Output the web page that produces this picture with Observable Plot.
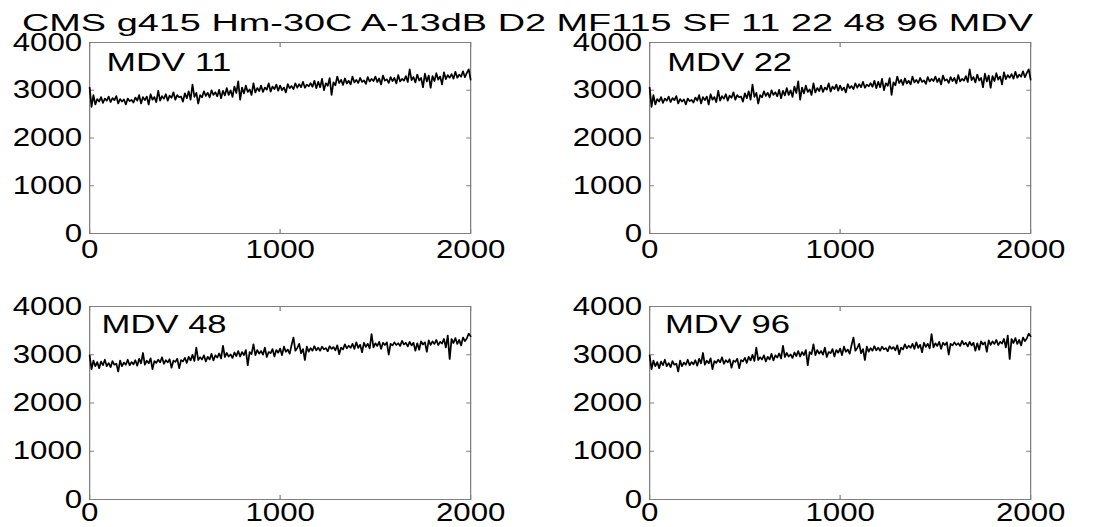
<!DOCTYPE html>
<html>
<head>
<meta charset="utf-8">
<script src="https://cdn.jsdelivr.net/npm/d3@7"></script>
<script src="https://cdn.jsdelivr.net/npm/@observablehq/plot@0.6"></script>
<style>
  html, body { margin: 0; padding: 0; background: #fff; overflow: hidden; }
  #stage { position: relative; width: 888px; height: 527px; transform: scaleX(1.25); transform-origin: 0 0; }
  #stage > * { position: absolute; }
</style>
</head>
<body>
<div id="stage"></div>
<script>
const titleText = "CMS g415 Hm-30C A-13dB D2 MF115 SF 11 22 48 96 MDV";
const mdvValues = [11, 22, 48, 96];
const xTicks = [0, 1000, 2000];
const yTicks = [0, 1000, 2000, 3000, 4000];
const sampleStep = 10;

// series (MDV 11 and MDV 22 look identical)
const seriesTop = [
  3060, 2650, 2900, 2700, 2820, 2760, 2860, 2730, 2830, 2780,
  2870, 2750, 2840, 2790, 2880, 2720, 2820, 2760, 2810, 2700,
  2830, 2770, 2800, 2740, 2850, 2780, 2900, 2720, 2860, 2790,
  2870, 2700, 2920, 2800, 2860, 2750, 2990, 2780, 2880, 2820,
  2920, 2780, 2890, 2840, 2960, 2800, 2900, 2850, 2870, 2760,
  2940, 2830, 2980, 2800, 3120, 2860, 2950, 2720, 2900, 2850,
  2980, 2880, 2950, 2850, 3000, 2900, 2960, 2870, 3010, 2830,
  2990, 2890, 3050, 2900, 3000, 2860, 3080, 2940, 3190, 2800,
  3060, 2930, 3100, 2960, 3020, 2900, 3150, 2950, 3050, 2980,
  3100, 2960, 3060, 3010, 3150, 2970, 3080, 3020, 3120, 2990,
  3100, 3000, 3060, 2950, 3130, 3040, 3090, 3020, 3150, 3050,
  3130, 3060, 3180, 3050, 3120, 3080, 3150, 3070, 3200, 3040,
  3180, 3060, 3240, 3000, 3150, 3090, 3260, 2900, 3170, 3100,
  3290, 3150, 3220, 3110, 3250, 3140, 3200, 3120, 3290, 3160,
  3220, 3150, 3260, 3170, 3210, 3130, 3280, 3180, 3240, 3190,
  3290, 3170, 3250, 3120, 3310, 3200, 3230, 3150, 3280, 3190,
  3260, 3140, 3320, 3180, 3240, 3200, 3300, 3170, 3440, 3210,
  3280, 3160, 3330, 3200, 3260, 3060, 3350, 3180, 3310, 3050,
  3300, 3190, 3360, 3220, 3290, 3120, 3380, 3230, 3320, 3260,
  3340, 3240, 3390, 3260, 3330, 3280, 3400, 3270, 3360, 3440,
  3220
];

// series (MDV 48 and MDV 96 look identical)
const seriesBottom = [
  2990, 2700, 2880, 2760, 2850, 2720, 2860, 2780, 2900, 2760,
  2830, 2740, 2870, 2790, 2820, 2650, 2880, 2760, 2840, 2790,
  2900, 2780, 2850, 2800, 2890, 2770, 2920, 2820, 3040, 2790,
  2880, 2820, 2930, 2700, 2870, 2830, 2900, 2840, 2950, 2810,
  2890, 2840, 2910, 2730, 2880, 2850, 2920, 2720, 2890, 2860,
  2940, 2830, 2960, 2880, 3000, 2870, 3150, 2890, 2950, 2900,
  2990, 2860, 2960, 2900, 3020, 2880, 2990, 2940, 3030, 2920,
  3190, 2950, 3040, 2960, 3010, 2930, 3050, 2970, 3080, 2960,
  3060, 2990, 3100, 2780, 3060, 3010, 3220, 2990, 3100, 3020,
  3080, 3000, 3150, 2950, 3060, 3030, 3120, 2960, 3100, 3040,
  3130, 2990, 3170, 3060, 3110, 3020, 3200, 3360, 3080, 3140,
  3230, 3030, 3120, 2890, 3170, 3060, 3140, 3080, 3180, 3090,
  3150, 3080, 3170, 3110, 3140, 3070, 3180, 3120, 3160, 3090,
  3200, 3010, 3150, 3110, 3220, 3130, 3190, 3140, 3230, 3120,
  3260, 3140, 3210, 3050, 3250, 3160, 3230, 3130, 3430, 3150,
  3240, 3180, 3270, 3120, 3250, 3200, 3260, 3000, 3230, 3190,
  3260, 3200, 3240, 3180, 3290, 3210, 3250, 3170, 3270, 3190,
  3250, 3080, 3240, 3100, 3280, 3210, 3260, 3060, 3300, 3200,
  3280, 3220, 3310, 3200, 3270, 3230, 3330, 3150, 3400, 2910,
  3330, 3240, 3350, 3220, 3310, 3190, 3360, 3280, 3340, 3440,
  3380
];

const panelSeries = [seriesTop, seriesTop, seriesBottom, seriesBottom];

const FONT = "'Liberation Sans', Arial, Helvetica, sans-serif";
const stage = document.getElementById("stage");
const fmt = d => String(d);

// panel layout (unscaled px; stage is stretched 1.25x horizontally)
const layout = [
  {left: 0,     top: 0,   mt: 42, mb: 30, pad: 7, dx: 13.5, dy: 11},
  {left: 447.5, top: 0,   mt: 42, mb: 30, pad: 7, dx: 14,   dy: 11},
  {left: 0,     top: 264, mt: 42, mb: 28, pad: 4, dx: 9.6,  dy: 9},
  {left: 447.5, top: 264, mt: 42, mb: 28, pad: 4, dx: 12.3, dy: 9}
];

mdvValues.forEach((mdv, i) => {
  const L = layout[i];
  const data = panelSeries[i].map((v, k) => ({x: k * sampleStep, y: v}));
  const tickStyle = {stroke: "#808080", tickFormat: () => "", label: null, tickSize: 4};
  const chart = Plot.plot({
    width: 416,
    height: 263,
    marginLeft: 71.2,
    marginRight: 40,
    marginTop: L.mt,
    marginBottom: L.mb,
    style: {fontFamily: FONT, fontSize: "25px", color: "black", background: "transparent", overflow: "visible"},
    x: {domain: [0, 2000]},
    y: {domain: [0, 4000]},
    marks: [
      Plot.frame({stroke: "#808080"}),
      Plot.axisX(xTicks, {anchor: "bottom", tickSize: 0, tickPadding: L.pad, fontSize: 25, tickFormat: fmt, label: null}),
      Plot.axisY(yTicks, {anchor: "left", tickSize: 0, tickPadding: 6, fontSize: 25, tickFormat: fmt, label: null}),
      Plot.axisX(xTicks, {...tickStyle, anchor: "bottom", dy: -4}),
      Plot.axisX(xTicks, {...tickStyle, anchor: "top", dy: 4}),
      Plot.axisY(yTicks, {...tickStyle, anchor: "left", dx: 4}),
      Plot.axisY(yTicks, {...tickStyle, anchor: "right", dx: -4}),
      Plot.line(data, {x: "x", y: "y", stroke: "black", strokeWidth: 1.4}),
      Plot.text([`MDV ${mdv}`], {
        text: d => d, frameAnchor: "top-left", textAnchor: "start", lineAnchor: "top",
        dx: L.dx, dy: L.dy, fontSize: 25, fill: "black"
      })
    ]
  });
  // MATLAB's label font runs wider than Liberation Sans: stretch the label to its measured width
  chart.querySelectorAll('g[aria-label="text"] text').forEach(t => {
    t.setAttribute("textLength", 100);
    t.setAttribute("lengthAdjust", "spacingAndGlyphs");
  });
  chart.style.left = L.left + "px";
  chart.style.top = L.top + "px";
  chart.style.maxWidth = "none";
  stage.appendChild(chart);
});

// title
const tsvg = d3.create("svg").attr("width", 888).attr("height", 40)
  .style("left", "0px").style("top", "0px").style("overflow", "visible");
tsvg.append("text")
  .attr("x", 17.6).attr("y", 31.5)
  .attr("textLength", 808.8).attr("lengthAdjust", "spacingAndGlyphs")
  .attr("font-family", FONT).attr("font-size", 23.5).attr("fill", "black")
  .text(titleText);
stage.appendChild(tsvg.node());
</script>
</body>
</html>
